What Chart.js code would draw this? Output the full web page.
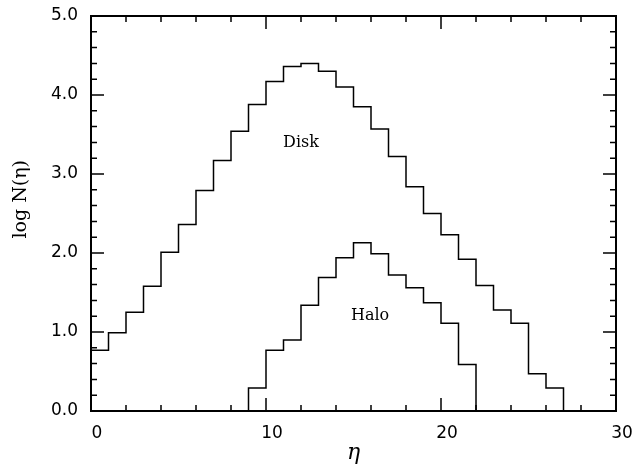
<!DOCTYPE html>
<html>
<head>
<meta charset="utf-8">
<title>log N(η) histograms</title>
<script src="https://cdn.jsdelivr.net/npm/chart.js@4.4.1/dist/chart.umd.min.js"></script>
<style>
  html, body { margin: 0; padding: 0; background: #fff; }
  #wrap { width: 635px; height: 466px; }
</style>
</head>
<body>
<div id="wrap"><canvas id="hist"></canvas></div>
<script>
// bins are one unit wide; each list starts at its first bin edge
const diskStart = 0;
const diskLogN = [0.77, 0.99, 1.25, 1.58, 2.01, 2.36, 2.79, 3.17, 3.54, 3.88,
                  4.17, 4.36, 4.40, 4.30, 4.10, 3.85, 3.57, 3.22, 2.84, 2.50,
                  2.23, 1.92, 1.59, 1.28, 1.11, 0.47, 0.29];
const haloStart = 9;
const haloLogN = [0.29, 0.77, 0.90, 1.34, 1.69, 1.94, 2.13, 1.99, 1.72, 1.56,
                  1.37, 1.11, 0.59];
const xTickLabels = [0, 10, 20, 30];
const yTickLabels = [0, 1, 2, 3, 4, 5];

// turn bin values into step outline points (closed down to zero at both ends)
function outline(start, vals) {
  const pts = [{ x: start, y: 0 }];
  vals.forEach((v, i) => pts.push({ x: start + i, y: v }));
  pts.push({ x: start + vals.length, y: 0 });
  return pts;
}

const serif = '"DejaVu Serif", "Liberation Serif", serif';
const sans = '"DejaVu Sans", "Liberation Sans", sans-serif';

// keep the plot box where the layout padding puts it
function noOverhang(scale) {
  scale.paddingTop = 0;
  scale.paddingBottom = 0;
  scale.paddingLeft = 0;
  scale.paddingRight = 0;
}

// box frame with inward ticks on all four sides
const framePlugin = {
  id: 'frame',
  afterDatasetsDraw(chart) {
    const { ctx, chartArea: a, scales: { x, y } } = chart;
    ctx.save();
    ctx.strokeStyle = '#000';
    ctx.lineWidth = 1.5;
    ctx.beginPath();
    for (let v = 0; v <= 30; v += 2) {
      const px = x.getPixelForValue(v);
      const len = v % 10 === 0 ? 13 : 6;
      ctx.moveTo(px, a.bottom); ctx.lineTo(px, a.bottom - len);
      ctx.moveTo(px, a.top); ctx.lineTo(px, a.top + len);
    }
    for (let i = 0; i <= 25; i++) {
      const py = y.getPixelForValue(i * 0.2);
      const len = i % 5 === 0 ? 13 : 6;
      ctx.moveTo(a.left, py); ctx.lineTo(a.left + len, py);
      ctx.moveTo(a.right, py); ctx.lineTo(a.right - len, py);
    }
    ctx.stroke();
    ctx.lineWidth = 2;
    ctx.strokeRect(a.left, a.top, a.right - a.left, a.bottom - a.top);

    // curve names
    ctx.fillStyle = '#000';
    ctx.font = '16px ' + serif;
    ctx.textAlign = 'center';
    ctx.textBaseline = 'middle';
    ctx.fillText('Disk', x.getPixelForValue(12.0), y.getPixelForValue(3.40));
    ctx.fillText('Halo', x.getPixelForValue(15.95), y.getPixelForValue(1.20));

    // y axis title
    ctx.font = '19px ' + serif;
    ctx.translate(21, y.getPixelForValue(2.68));
    ctx.rotate(-Math.PI / 2);
    ctx.fillText('log N(η)', 0, 0);
    ctx.restore();
  }
};

const ctx = document.getElementById('hist').getContext('2d');

const chart = new Chart(ctx, {
  type: 'line',
  data: {
    datasets: [
      { label: 'Disk', data: outline(diskStart, diskLogN) },
      { label: 'Halo', data: outline(haloStart, haloLogN) }
    ]
  },
  options: {
    responsive: true,
    maintainAspectRatio: false,
    animation: false,
    layout: { padding: { top: 16, right: 19, left: 0, bottom: 0 } },
    elements: {
      line: { stepped: true, borderColor: '#000', borderWidth: 1.5, fill: false, tension: 0 },
      point: { radius: 0 }
    },
    plugins: {
      legend: { display: false },
      tooltip: { enabled: false }
    },
    scales: {
      x: {
        type: 'linear',
        min: 0,
        max: 30,
        grid: { display: false, drawTicks: false },
        border: { display: false },
        afterBuildTicks(scale) {
          scale.ticks = xTickLabels.map(v => ({ value: v }));
        },
        afterFit(scale) { scale.height = 55; noOverhang(scale); },
        ticks: {
          color: '#000',
          font: { family: sans, size: 17 },
          padding: 12,
          labelOffset: 6,
          maxRotation: 0,
          callback: v => String(v)
        },
        title: {
          display: true,
          text: 'η',
          color: '#000',
          font: { family: serif, size: 22, style: 'italic' },
          padding: { top: 0, bottom: 0 }
        }
      },
      y: {
        type: 'linear',
        min: 0,
        max: 5,
        grid: { display: false, drawTicks: false },
        border: { display: false },
        afterBuildTicks(scale) {
          scale.ticks = yTickLabels.map(v => ({ value: v }));
        },
        afterFit(scale) { scale.width = 91; noOverhang(scale); },
        ticks: {
          color: '#000',
          font: { family: sans, size: 17 },
          padding: 13,
          callback: v => v.toFixed(1)
        }
      }
    }
  },
  plugins: [framePlugin]
});
</script>
</body>
</html>
